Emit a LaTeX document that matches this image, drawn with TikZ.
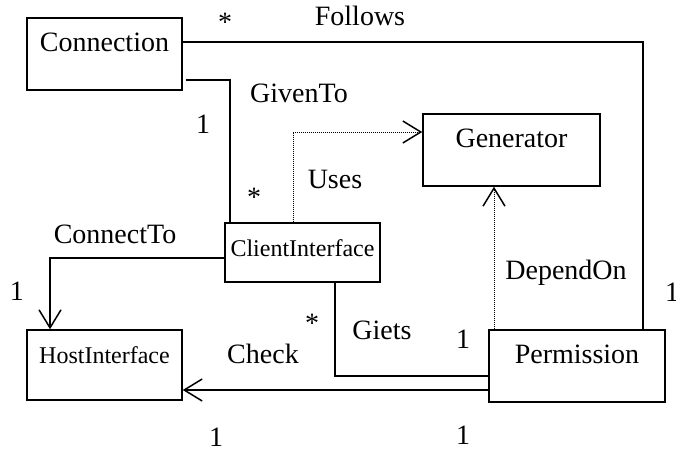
\documentclass[tikz,border=0pt]{standalone}
\usepackage{fontspec}
\setmainfont{Liberation Serif}
\usetikzlibrary{arrows.meta}
\tikzset{
  cls/.style ={rectangle, draw, line width=0.75pt, inner sep=0pt, text height=9pt, text depth=12pt, font=\fontsize{14}{16}\selectfont},
  icls/.style={cls, text height=8pt, text depth=4pt, font=\fontsize{12}{14}\selectfont},
  asc/.style ={line width=0.75pt},
  nav/.style ={asc, -{Straight Barb[length=9pt, width=11pt]}},
  dep/.style ={line width=0.5pt, dash pattern=on 0.5pt off 0.5pt, -{Straight Barb[length=9pt, width=11pt, line width=0.75pt]}},
  lbl/.style ={font=\fontsize{14}{16}\selectfont, inner sep=0pt},
}

\begin{document}
\begin{tikzpicture}[x=0.5pt, y=-0.5pt]
  \useasboundingbox (0,0) rectangle (676,450);
  % classes
  \node[cls, minimum width=77.5pt, minimum height=36pt] (conn) at (104.5,54) {Connection};
  \node[cls, minimum width=88.5pt, minimum height=36pt] (gen) at (511.5,150) {Generator};
  \node[icls, minimum width=77.5pt, minimum height=29.5pt] (client) at (302.5,252.5) {ClientInterface};
  \node[icls, minimum width=77.5pt, minimum height=35pt, text height=8pt, text depth=10pt] (host) at (104.5,365) {HostInterface};
  \node[cls, minimum width=88pt, minimum height=36pt] (perm) at (577,366) {Permission};
  % associations
  \draw[asc] ([yshift=6pt]conn.east) -| ([xshift=33pt]perm.north);
  \draw[asc] ([xshift=1.5pt, yshift=-13pt]conn.east) -| ([xshift=-36.25pt]client.north);
  \draw[dep] ([xshift=-4.75pt]client.north) |- ([yshift=9pt]gen.west);
  \draw[dep] ([xshift=-41.5pt]perm.north) -- ([xshift=-8.75pt]gen.south);
  \draw[nav] ([yshift=-2.75pt]client.west) -| ([xshift=-27.25pt]host.north);
  \draw[asc] ([xshift=16.25pt]client.south) |- ([yshift=-5pt]perm.west);
  \draw[nav] ([yshift=-12pt]perm.west) -- ([yshift=-12pt]perm.west -| host.east);
  % labels
  \node[lbl] (m1) at (225,22) {*};
  \node[lbl] (follows) at (360,16) {Follows};
  \node[lbl] (givento) at (299,93) {GivenTo};
  \node[lbl] (m2) at (203,124) {1};
  \node[lbl] (m3) at (254,197) {*};
  \node[lbl] (uses) at (335,179) {Uses};
  \node[lbl] (connectto) at (115,234) {ConnectTo};
  \node[lbl] (m4) at (17,291) {1};
  \node[lbl] (dependon) at (566,273) {DependOn};
  \node[lbl] (m5) at (672,292) {1};
  \node[lbl] (m6) at (312,323) {*};
  \node[lbl] (giets) at (382,330) {Giets};
  \node[lbl] (m7) at (463,339) {1};
  \node[lbl] (check) at (263,354) {Check};
  \node[lbl] (m8) at (216,437) {1};
  \node[lbl] (m9) at (463,435) {1};
\end{tikzpicture}
\end{document}
